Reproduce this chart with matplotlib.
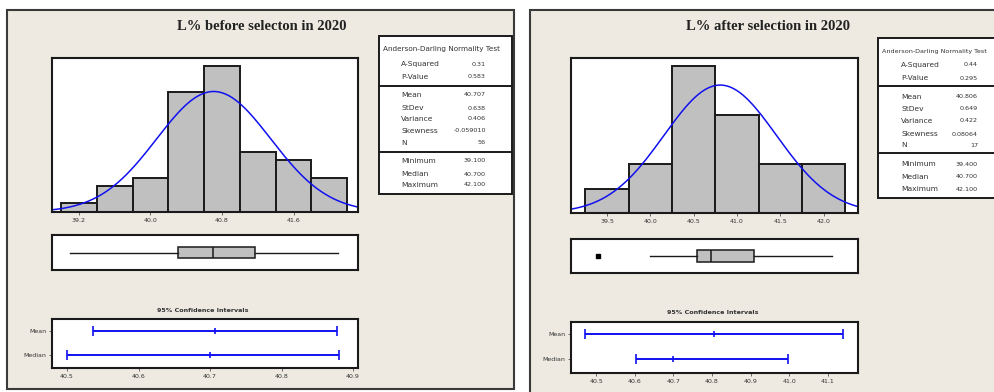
import numpy as np
import matplotlib
matplotlib.use("Agg")
import matplotlib.pyplot as plt
from matplotlib.patches import Rectangle

# ---- data -------------------------------------------------------------
before_title = "L% before selecton in 2020"
before_bin_centers = [39.2, 39.6, 40.0, 40.4, 40.8, 41.2, 41.6, 42.0]
before_counts = [1, 3, 4, 14, 17, 7, 6, 4]
before_bin_width = 0.4
before_hist_ticks = [39.2, 40.0, 40.8, 41.6]
before_mean, before_sd, before_n = 40.707, 0.638, 56
before_box = dict(whislo=39.1, q1=40.31, med=40.7, q3=41.17, whishi=42.1, fliers=[])
before_mean_ci = (40.536, 40.878)
before_median_ci = (40.5, 40.88)
before_ci_ticks = [40.5, 40.6, 40.7, 40.8, 40.9]
before_table = [
    [("A-Squared", "0.31"), ("P-Value", "0.583")],
    [("Mean", "40.707"), ("StDev", "0.638"), ("Variance", "0.406"),
     ("Skewness", "-0.059010"), ("N", "56")],
    [("Minimum", "39.100"), ("Median", "40.700"), ("Maximum", "42.100")],
]

after_title = "L% after selection in 2020"
after_bin_centers = [39.5, 40.0, 40.5, 41.0, 41.5, 42.0]
after_counts = [1, 2, 6, 4, 2, 2]
after_bin_width = 0.5
after_hist_ticks = [39.5, 40.0, 40.5, 41.0, 41.5, 42.0]
after_mean, after_sd, after_n = 40.806, 0.649, 17
after_box = dict(whislo=40.0, q1=40.54, med=40.7, q3=41.2, whishi=42.1, fliers=[39.4])
after_mean_ci = (40.472, 41.14)
after_median_ci = (40.603, 40.998)
after_ci_ticks = [40.5, 40.6, 40.7, 40.8, 40.9, 41.0, 41.1]
after_table = [
    [("A-Squared", "0.44"), ("P-Value", "0.295")],
    [("Mean", "40.806"), ("StDev", "0.649"), ("Variance", "0.422"),
     ("Skewness", "0.08064"), ("N", "17")],
    [("Minimum", "39.400"), ("Median", "40.700"), ("Maximum", "42.100")],
]

# ---- figure -----------------------------------------------------------
W, H = 994, 392
fig = plt.figure(figsize=(W / 100, H / 100), dpi=100)
fig.patch.set_facecolor("white")

PANEL_BG = "#EEEAE1"
BAR_GRAY = "#C0C0C0"
EDGE = "#1a1a1a"
TXT = "#333333"
BLUE = "#1010F0"


def fx(x):
    return x / W


def fy(y):
    return 1 - y / H


def ax_at(x0, y0, x1, y1, **kw):
    ax = fig.add_axes([fx(x0), fy(y1), (x1 - x0) / W, (y1 - y0) / H], **kw)
    ax.set_zorder(2)
    return ax


def style_axes(ax):
    ax.set_facecolor("white")
    for s in ax.spines.values():
        s.set_linewidth(1.5)
        s.set_color(EDGE)
    ax.tick_params(axis="both", length=2, width=0.6, colors="#555555",
                   labelsize=4.5, pad=2, labelcolor=TXT)


def draw_panel(P, title, centers, counts, bw, hist_ticks, hist_fmt,
               mean, sd, n, box, mean_ci, median_ci, ci_ticks, table):
    # panel background
    fig.patches.append(Rectangle((fx(P["x0"]), fy(P["y1"])),
                                 (P["x1"] - P["x0"]) / W, (P["y1"] - P["y0"]) / H,
                                 transform=fig.transFigure, facecolor=PANEL_BG,
                                 edgecolor="#3a3a3a", linewidth=1.5, zorder=-5))
    fig.text(fx(P["title_x"]), fy(P["title_y"]), title, ha="center", va="center",
             family="Liberation Serif", fontsize=10.5, fontweight="bold", color="#222222")

    # histogram with fitted normal curve
    ax = ax_at(*P["hist"])
    style_axes(ax)
    ax.bar(centers, counts, width=bw, color=BAR_GRAY, edgecolor=EDGE, linewidth=1.4)
    xs = np.linspace(*P["hist_xlim"], 300)
    ys = n * bw * np.exp(-0.5 * ((xs - mean) / sd) ** 2) / (sd * np.sqrt(2 * np.pi))
    ax.plot(xs, ys, color=BLUE, linewidth=1.1)
    ax.set_xlim(*P["hist_xlim"])
    ax.set_ylim(0, P["hist_ytop"])
    ax.set_yticks([])
    ax.set_xticks(hist_ticks)
    ax.set_xticklabels([hist_fmt.format(t) for t in hist_ticks])

    # boxplot on the same scale
    bx = ax_at(*P["box"])
    style_axes(bx)
    st = dict(box)
    st["label"] = ""
    bx.bxp([st], orientation="horizontal", positions=[0], widths=0.34,
           showcaps=False, patch_artist=True,
           boxprops=dict(facecolor=BAR_GRAY, edgecolor=EDGE, linewidth=1.1),
           medianprops=dict(color=EDGE, linewidth=1.1),
           whiskerprops=dict(color=EDGE, linewidth=1.0),
           flierprops=dict(marker="s", markersize=3, markerfacecolor="black",
                           markeredgecolor="black"))
    bx.set_xlim(*P["hist_xlim"])
    bx.set_ylim(-0.5, 0.5)
    bx.set_xticks([])
    bx.set_yticks([])

    # 95% confidence intervals
    fig.text(fx(P["ci_title_x"]), fy(P["ci_title_y"]), "95% Confidence Intervals",
             ha="center", va="center", fontsize=4.6, fontweight="bold", color=TXT)
    cx = ax_at(*P["ci"])
    style_axes(cx)
    rows = [(1, mean, mean_ci), (0, box["med"], median_ci)]
    for yrow, c, (lo, hi) in rows:
        cx.errorbar([c], [yrow], xerr=[[c - lo], [hi - c]], color=BLUE,
                    linewidth=1.4, capsize=3.5, capthick=1.3,
                    marker="|", markersize=4, markeredgewidth=1.2)
    cx.set_xlim(*P["ci_xlim"])
    cx.set_ylim(-0.55, 1.5)
    cx.set_yticks([1, 0])
    cx.set_yticklabels(["Mean", "Median"])
    cx.set_xticks(ci_ticks)
    cx.set_xticklabels([f"{t:.1f}" for t in ci_ticks])

    # summary table
    tx0, ty0, tx1, ty1 = P["table"]
    fig.patches.append(Rectangle((fx(tx0), fy(ty1)), (tx1 - tx0) / W, (ty1 - ty0) / H,
                                 transform=fig.transFigure, facecolor="white",
                                 edgecolor=EDGE, linewidth=1.4, zorder=1))
    for yd in P["dividers"]:
        fig.lines.append(plt.Line2D([fx(tx0), fx(tx1)], [fy(yd), fy(yd)],
                                    transform=fig.transFigure, color=EDGE,
                                    linewidth=1.4, zorder=2))
    fig.text(fx(P["head_x"]), fy(P["head_y"]), "Anderson-Darling Normality Test",
             ha="left", va="center", fontsize=P["head_size"], color=TXT, zorder=3)
    ry = iter(P["row_y"])
    for block in table:
        for label, val in block:
            y = next(ry)
            fig.text(fx(P["lab_x"]), fy(y), label, ha="left", va="center",
                     fontsize=5.4, color=TXT, zorder=3)
            fig.text(fx(P["val_x"]), fy(y), val, ha="right", va="center",
                     fontsize=4.6, color=TXT, zorder=3)


left_layout = dict(
    x0=7, y0=10, x1=514, y1=389, title_x=262, title_y=27,
    hist=(52, 58, 358, 212), hist_xlim=(38.9, 42.32), hist_ytop=17.9,
    box=(52, 235, 358, 270),
    ci_title_x=203, ci_title_y=310, ci=(52, 319, 358, 368), ci_xlim=(40.479, 40.907),
    table=(379, 36, 512, 194), dividers=(86, 152), head_x=383, head_y=49, head_size=5.2,
    lab_x=401, val_x=486,
    row_y=(64, 77, 95, 108, 119, 131, 143, 161, 174, 185),
)
right_layout = dict(
    x0=530, y0=10, x1=1010, y1=410, title_x=768, title_y=27,
    hist=(571, 58, 858, 213), hist_xlim=(39.085, 42.395), hist_ytop=6.33,
    box=(571, 239, 858, 273),
    ci_title_x=713, ci_title_y=313, ci=(571, 322, 858, 373), ci_xlim=(40.435, 41.178),
    table=(878, 38, 1010, 198), dividers=(86, 153), head_x=882, head_y=51, head_size=4.6,
    lab_x=901, val_x=978,
    row_y=(65, 78, 97, 109, 121, 134, 145, 164, 177, 189),
)

draw_panel(left_layout, before_title, before_bin_centers, before_counts,
           before_bin_width, before_hist_ticks, "{:.1f}",
           before_mean, before_sd, before_n, before_box,
           before_mean_ci, before_median_ci, before_ci_ticks, before_table)
draw_panel(right_layout, after_title, after_bin_centers, after_counts,
           after_bin_width, after_hist_ticks, "{:.1f}",
           after_mean, after_sd, after_n, after_box,
           after_mean_ci, after_median_ci, after_ci_ticks, after_table)

fig.savefig("out.png", dpi=100, facecolor="white")
